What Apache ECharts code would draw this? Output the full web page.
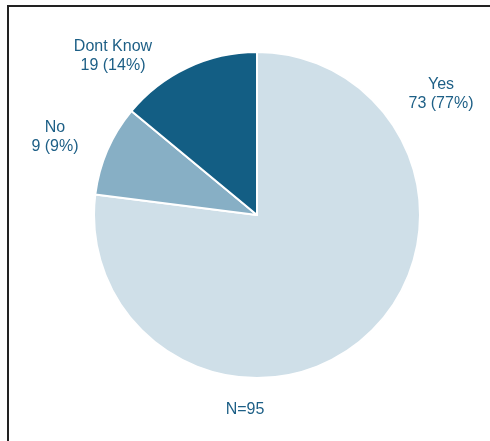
<!DOCTYPE html>
<html>
<head>
<meta charset="utf-8">
<script src="https://cdn.jsdelivr.net/npm/echarts@6/dist/echarts.min.js"></script>
<style>
  html, body { margin: 0; padding: 0; background: #fff; }
  #chart { width: 490px; height: 441px; }
</style>
</head>
<body>
<div id="chart"></div>
<script>
// Survey answers
const categories = ['Yes', 'No', 'Dont Know'];
const counts = [73, 9, 19];
const percents = [77, 9, 14];
const totalN = 95;

const sliceColors = ['#cfdfe8', '#87afc5', '#135e84'];
const textColor = '#1d5f86';
// label block centres (px) for each slice
const labelAnchors = [[441, 94], [55, 137], [113, 56]];

const chart = echarts.init(document.getElementById('chart'), null, { renderer: 'canvas' });

chart.setOption({
  animation: false,
  backgroundColor: '#ffffff',
  graphic: [
    {
      type: 'polyline',
      shape: { points: [[8, 441], [8, 6], [490, 6]] },
      style: { stroke: '#222222', lineWidth: 2, fill: null }
    },
    {
      type: 'text',
      left: 'center',
      top: 402,
      style: {
        text: 'N=' + totalN,
        fill: textColor,
        font: '16px "Liberation Sans", Arial, sans-serif',
        textAlign: 'center'
      }
    }
  ],
  series: [{
    type: 'pie',
    center: [257, 215],
    radius: [0, 163],
    startAngle: 90,
    clockwise: true,
    label: {
      show: true,
      position: 'outside',
      color: textColor,
      fontFamily: '"Liberation Sans", Arial, sans-serif',
      fontSize: 16,
      lineHeight: 19,
      align: 'center',
      formatter: p => categories[p.dataIndex] + '\n' + counts[p.dataIndex] + ' (' + percents[p.dataIndex] + '%)'
    },
    labelLine: { show: false },
    labelLayout: p => ({
      x: labelAnchors[p.dataIndex][0],
      y: labelAnchors[p.dataIndex][1],
      align: 'center',
      verticalAlign: 'middle'
    }),
    itemStyle: { borderColor: '#ffffff', borderWidth: 2 },
    emphasis: { disabled: true },
    data: categories.map((c, i) => ({
      name: c,
      value: percents[i],
      itemStyle: { color: sliceColors[i] }
    }))
  }]
});
</script>
</body>
</html>
